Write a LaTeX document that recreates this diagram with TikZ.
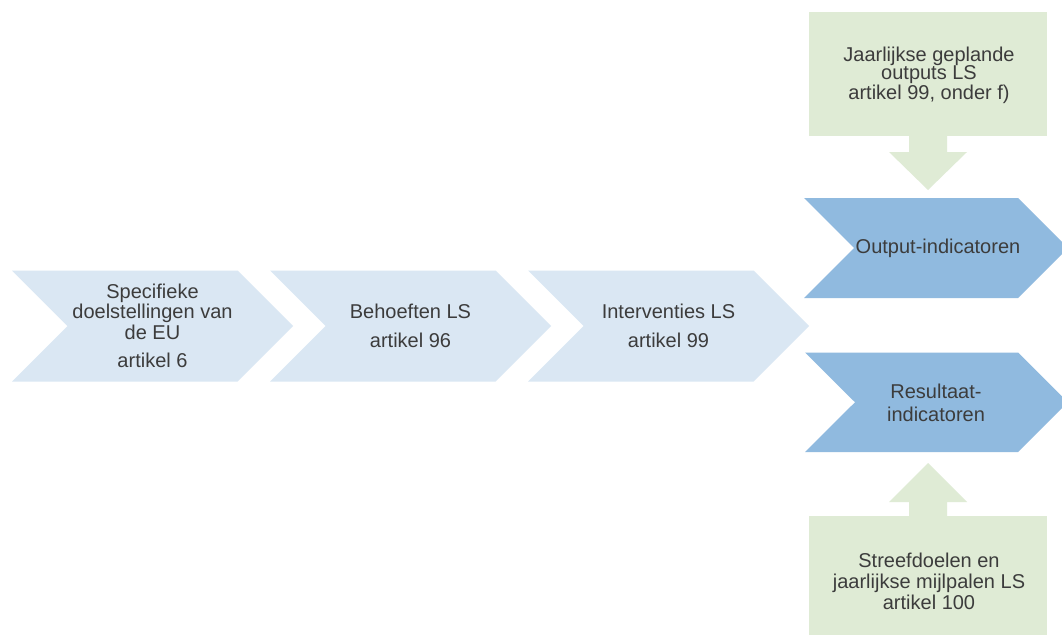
\documentclass[tikz,border=0pt]{standalone}
\usepackage{fontspec}
\setmainfont{Liberation Sans}
\definecolor{chevlight}{HTML}{DAE7F3}
\definecolor{chevblue}{HTML}{90BADF}
\definecolor{boxgreen}{HTML}{DFEBD5}
\definecolor{txtgray}{HTML}{3C3C3C}
\begin{document}
\begin{tikzpicture}[x=1pt,y=-1pt,
  lightchev/.style={fill=chevlight},
  bluechev/.style={fill=chevblue},
  greenshape/.style={fill=boxgreen},
  lbl/.style={text=txtgray, align=center, inner sep=0pt, font=\fontsize{20}{20.5}\selectfont}]
\clip (0,0) rectangle (1062,634);
\fill[white] (0,0) rectangle (1062,634);
% light chevrons
\fill[lightchev] (12,270.5) -- (237.5,270.5) -- (293,326) -- (237.5,381.5) -- (12,381.5) -- (67.5,326) -- cycle;
\fill[lightchev] (270,270.5) -- (495.5,270.5) -- (551,326) -- (495.5,381.5) -- (270,381.5) -- (325.5,326) -- cycle;
\fill[lightchev] (528,270.5) -- (753.5,270.5) -- (809,326) -- (753.5,381.5) -- (528,381.5) -- (583.5,326) -- cycle;
% blue chevrons
\fill[bluechev] (804,198) -- (1018,198) -- (1068,248) -- (1018,298) -- (804,298) -- (854,248) -- cycle;
\fill[bluechev] (805,352.5) -- (1018,352.5) -- (1068,402.25) -- (1018,452) -- (805,452) -- (855,402.25) -- cycle;
% green boxes and arrows
\fill[greenshape] (809,12) rectangle (1047,136);
\fill[greenshape] (909,136) -- (947,136) -- (947,152) -- (967,152) -- (928,190) -- (889,152) -- (909,152) -- cycle;
\fill[greenshape] (809,516) rectangle (1047,650);
\fill[greenshape] (909,516) -- (909,502) -- (889,502) -- (928,463) -- (967,502) -- (947,502) -- (947,516) -- cycle;
% labels
\node[lbl] (n1) at (152.5,326) {Specifieke\\doelstellingen van\\de EU\\[8pt]artikel 6};
\node[lbl] (n2) at (410.5,326) {Behoeften LS\\[9pt]artikel 96};
\node[lbl] (n3) at (668.5,326) {Interventies LS\\[9pt]artikel 99};
\node[lbl] (n4) at (938,248) {Output-indicatoren};
\node[lbl] (n5) at (936,403) {Resultaat-\\[3pt]indicatoren};
\node[lbl, font=\fontsize{20}{18.5}\selectfont] (n6) at (929,75) {Jaarlijkse geplande\\outputs LS\\artikel 99, onder f)};
\node[lbl, font=\fontsize{20}{21}\selectfont] (n7) at (929,581) {Streefdoelen en\\jaarlijkse mijlpalen LS\\artikel 100};
\end{tikzpicture}
\end{document}
